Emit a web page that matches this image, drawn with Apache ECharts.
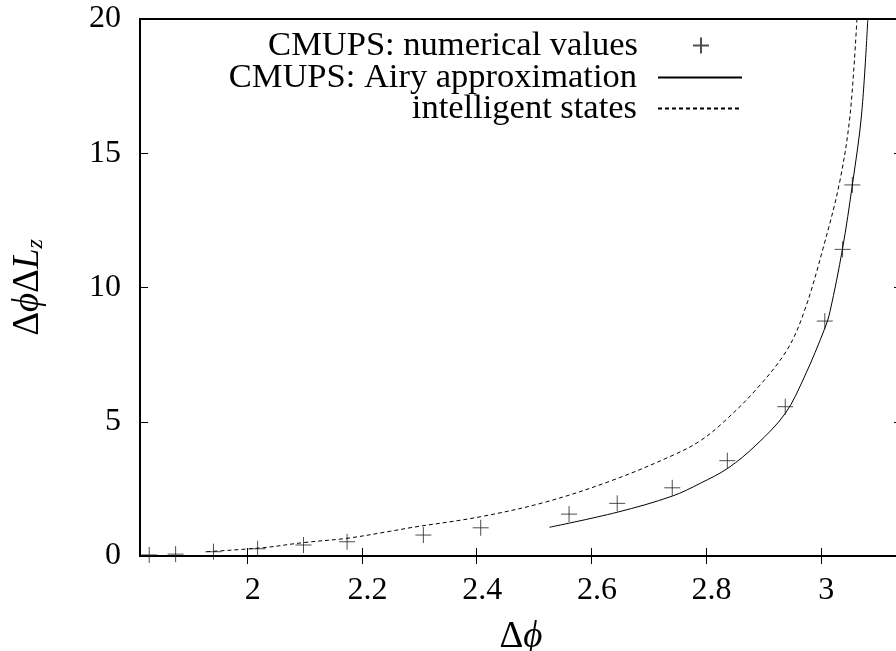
<!DOCTYPE html>
<html>
<head>
<meta charset="utf-8">
<script src="https://cdn.jsdelivr.net/npm/echarts@6/dist/echarts.min.js"></script>
<style>html,body{margin:0;padding:0;background:#fff}#c{width:896px;height:651px}</style>
</head>
<body>
<div id="c"></div>
<script>
// Data
const xTicks = [2, 2.2, 2.4, 2.6, 2.8, 3];
const yTicks = [0, 5, 10, 15, 20];
const numX = [1.829, 1.875, 1.941, 2.018, 2.098, 2.174, 2.307, 2.407, 2.561, 2.645, 2.741, 2.837, 2.938, 3.007, 3.038, 3.055];
const numY = [0.04, 0.07, 0.16, 0.27, 0.41, 0.53, 0.78, 1.05, 1.56, 1.96, 2.54, 3.55, 5.56, 8.75, 11.42, 13.82];
const airyX = [2.527, 2.645, 2.741, 2.790, 2.838, 2.887, 2.938, 2.972, 3.007, 3.016, 3.038, 3.055, 3.071, 3.082];
const airyY = [1.07, 1.63, 2.23, 2.71, 3.27, 4.13, 5.31, 6.70, 8.48, 9.10, 11.46, 13.82, 16.42, 20];
const intX = [1.929, 2.028, 2.098, 2.174, 2.249, 2.289, 2.406, 2.522, 2.638, 2.743, 2.789, 2.830, 2.888, 2.941, 2.971, 3.004, 3.033, 3.051, 3.063];
const intY = [0.16, 0.31, 0.50, 0.66, 0.92, 1.07, 1.46, 2.02, 2.83, 3.76, 4.28, 4.98, 6.22, 7.67, 9.10, 11.46, 13.94, 16.42, 20];
const names = ['CMUPS: numerical values', 'CMUPS: Airy approximation', 'intelligent states'];

const zip = (a, b) => a.map((v, i) => [v, b[i]]);
const FONT = '"Liberation Serif", "DejaVu Serif", serif';
const xMin = 1.8129, xMax = Math.PI;

const chart = echarts.init(document.getElementById('c'));
const legendBase = (name, top, right, gap) => ({
  data: [name], orient: 'vertical', align: 'right', right: right, top: top,
  itemWidth: 84, itemHeight: 16, padding: 0, selectedMode: false,
  textStyle: { fontFamily: FONT, fontSize: 34.5, color: '#000', lineHeight: 32, padding: [0, gap, 0, 0] }
});
chart.setOption({
  animation: false,
  backgroundColor: '#fff',
  grid: { left: 140, right: -6, top: 19, bottom: 95, outerBoundsMode: 'none', containLabel: false,
          show: true, borderColor: '#000', borderWidth: 2, backgroundColor: 'transparent' },
  legend: [legendBase(names[0], 44 - 16, 186, 16), legendBase(names[1], 76 - 16, 153, 16), legendBase(names[2], 107 - 16, 153, 16)],
  xAxis: [{
    type: 'value', min: xMin, max: xMax, position: 'bottom',
    name: '{r|Δ}{i|ϕ}', nameLocation: 'middle', nameGap: 63,
    nameTextStyle: {
      fontFamily: FONT, fontSize: 37, color: '#000',
      rich: {
        r: { fontFamily: FONT, fontSize: 37, color: '#000' },
        i: { fontFamily: FONT, fontSize: 37, fontStyle: 'italic', color: '#000' }
      }
    },
    axisLine: { show: false }, splitLine: { show: false },
    axisTick: { inside: true, length: 8, lineStyle: { color: '#000', width: 1 }, customValues: xTicks },
    axisLabel: { customValues: xTicks, fontFamily: FONT, fontSize: 32, color: '#000', margin: 19, padding: [0, 0, 0, 11] }
  }, {
    type: 'value', min: xMin, max: xMax, position: 'top',
    axisLine: { show: false }, splitLine: { show: false },
    axisTick: { inside: true, length: 8, lineStyle: { color: '#000', width: 1 }, customValues: xTicks },
    axisLabel: { show: false }
  }],
  yAxis: [{
    type: 'value', min: 0, max: 20, interval: 5, position: 'left',
    name: '{r|Δ}{i|ϕ}{r|Δ}{i|L}{s|z}', nameLocation: 'middle', nameGap: 92, nameRotate: 90,
    nameTextStyle: {
      fontFamily: FONT, fontSize: 37, color: '#000',
      rich: {
        r: { fontFamily: FONT, fontSize: 37, color: '#000' },
        i: { fontFamily: FONT, fontSize: 37, fontStyle: 'italic', color: '#000' },
        s: { fontFamily: FONT, fontSize: 24, fontStyle: 'italic', color: '#000', verticalAlign: 'bottom', padding: [15, 0, 0, 0] }
      }
    },
    axisLine: { show: false }, splitLine: { show: false },
    axisTick: { inside: true, length: 8, lineStyle: { color: '#000', width: 1 } },
    axisLabel: { fontFamily: FONT, fontSize: 32, color: '#000', margin: 19, formatter: v => String(v) }
  }, {
    type: 'value', min: 0, max: 20, interval: 5, position: 'right',
    axisLine: { show: false }, splitLine: { show: false },
    axisTick: { inside: true, length: 8, lineStyle: { color: '#000', width: 1 } },
    axisLabel: { show: false }
  }],
  series: [{
    name: names[0], type: 'scatter', xAxisIndex: 0, yAxisIndex: 0,
    data: zip(numX, numY),
    symbol: 'path://M0,8L16,8M8,0L8,16', symbolSize: 16,
    itemStyle: { color: 'transparent', borderColor: '#222', borderWidth: 1 }
  }, {
    name: names[1], type: 'line', xAxisIndex: 0, yAxisIndex: 0,
    data: zip(airyX, airyY), showSymbol: false, symbol: 'none', smooth: 0.35,
    lineStyle: { color: '#000', width: 1 }, itemStyle: { color: 'transparent' }
  }, {
    name: names[2], type: 'line', xAxisIndex: 0, yAxisIndex: 0,
    data: zip(intX, intY), showSymbol: false, symbol: 'none', smooth: 0.35,
    lineStyle: { color: '#000', width: 1, type: [4, 3] }, itemStyle: { color: 'transparent' }
  }]
});
</script>
</body>
</html>
